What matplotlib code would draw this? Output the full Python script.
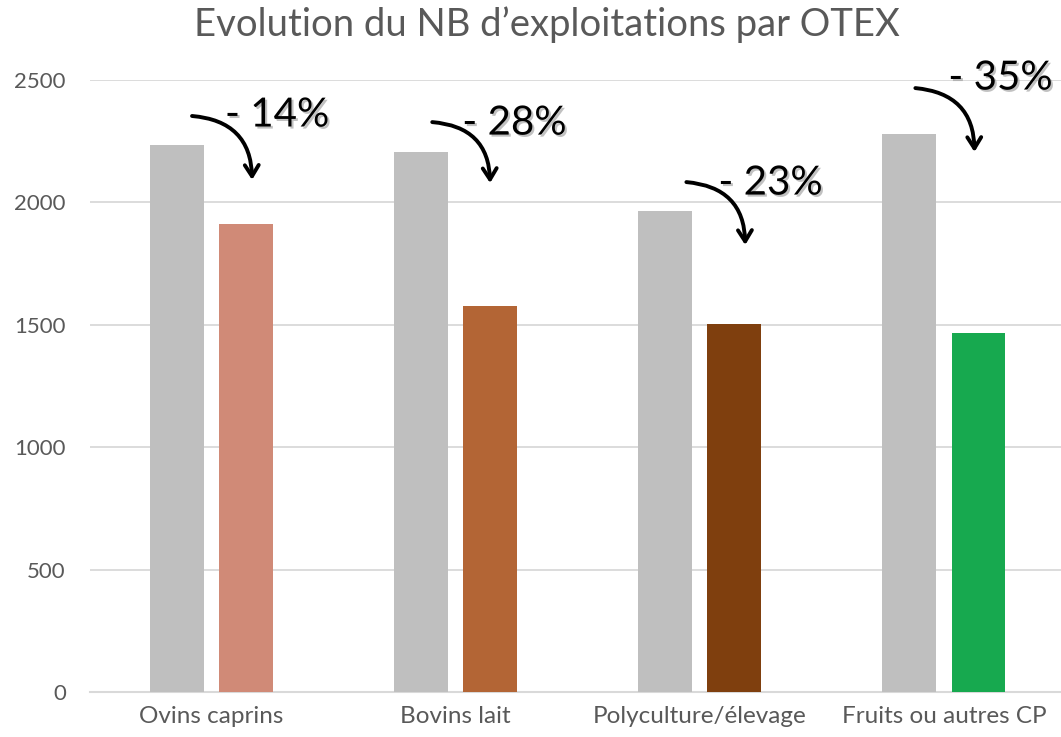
import matplotlib
matplotlib.use("Agg")
import matplotlib.pyplot as plt
import matplotlib.patheffects as pe
import numpy as np

categories = ["Ovins caprins", "Bovins lait", "Polyculture/élevage", "Fruits ou autres CP"]
before = [2234, 2206, 1965, 2279]
after = [1912, 1577, 1503, 1466]
after_colors = ["#D08A77", "#B36535", "#7F3F0E", "#17A94F"]
labels = ["- 14%", "- 28%", "- 23%", "- 35%"]
yticks = [0, 500, 1000, 1500, 2000, 2500]

plt.rcParams['font.family'] = ['Lato', 'DejaVu Sans']

fig = plt.figure(figsize=(10.61, 7.37), dpi=100)
ax = fig.add_axes([89.5/1061, (737-692)/737, 976.5/1061, 612/737])

x = np.arange(len(categories))
w = 0.221
off = 0.1415
ax.bar(x - off, before, w, color="#BFBFBF", zorder=3)
ax.bar(x + off, after, w, color=after_colors, zorder=3)

ax.set_xlim(-0.5, 3.5)
ax.set_ylim(0, 2500)
ax.set_yticks(yticks)
ax.set_yticklabels([str(v) for v in yticks], fontsize=16, color="#595959")
ax.set_xticks(x)
ax.set_xticklabels(categories, fontsize=17.5, color="#595959")
ax.tick_params(axis='y', length=0, pad=17)
ax.tick_params(axis='x', length=0, pad=10)
ax.grid(axis='y', color="#D9D9D9", lw=1.3, zorder=0)
for s in ["top", "right", "left"]:
    ax.spines[s].set_visible(False)
ax.spines["bottom"].set_color("#D9D9D9")
ax.spines["bottom"].set_linewidth(1.5)

fig.text(547/1061, 1 - 25/737, "Evolution du NB d\u2019exploitations par OTEX",
         ha="center", va="center", fontsize=27.5, color="#595959")

# annotations: (text_x, text_y, arrow_start, arrow_end) in data coords
ann = [
    ((0.055, 2357), (-0.08, 2353), (0.166, 2092)),
    ((1.027, 2324), (0.904, 2328), (1.141, 2079)),
    ((2.076, 2079), (1.945, 2083), (2.186, 1826)),
    ((3.018, 2508), (2.883, 2467), (3.125, 2206)),
]
shadow = [pe.withSimplePatchShadow(offset=(1.5, -1.5), shadow_rgbFace="#999999", alpha=0.6)]
for lab, (tpos, a0, a1) in zip(labels, ann):
    t = ax.text(tpos[0], tpos[1], lab, fontsize=29, color="black", ha="left", va="center",
                zorder=5, clip_on=False)
    t.set_path_effects(shadow)
    ax.annotate("", xy=a1, xytext=a0, zorder=5, annotation_clip=False,
                arrowprops=dict(arrowstyle="->,head_length=0.8,head_width=0.5",
                                connectionstyle="arc3,rad=-0.45", lw=2.8, color="black",
                                shrinkA=0, shrinkB=0))

fig.savefig("out.png", dpi=100)
